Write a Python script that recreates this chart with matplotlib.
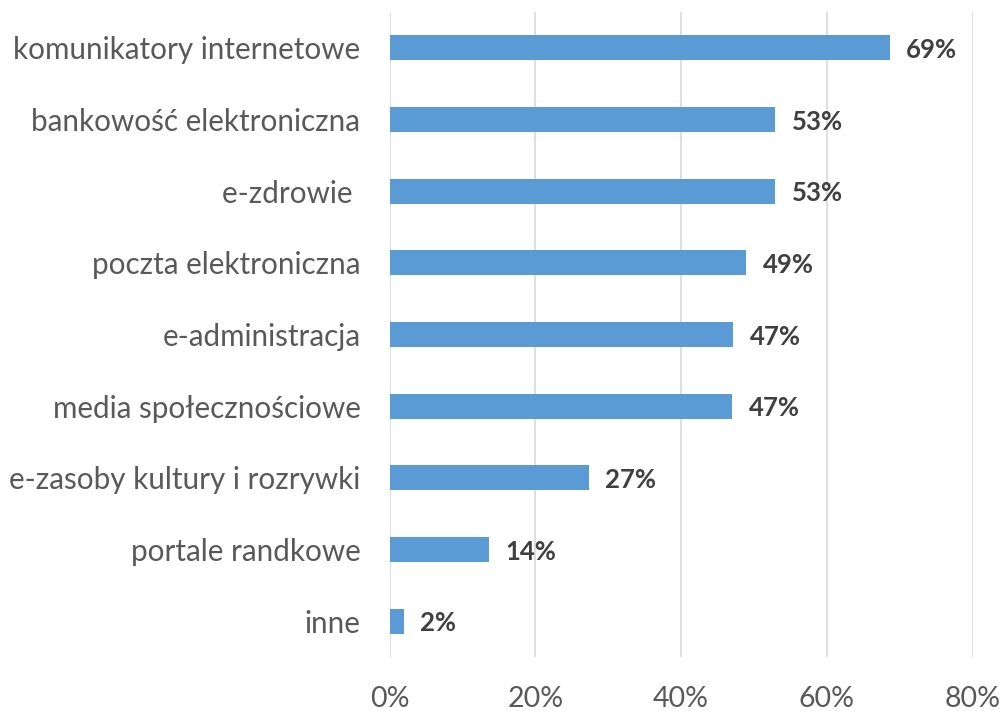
import matplotlib.pyplot as plt
from matplotlib.ticker import FuncFormatter

plt.rcParams['font.family'] = ['Lato', 'DejaVu Sans']

categories = ['komunikatory internetowe', 'bankowość elektroniczna', 'e-zdrowie ',
              'poczta elektroniczna', 'e-administracja', 'media społecznościowe',
              'e-zasoby kultury i rozrywki', 'portale randkowe', 'inne']
values = [68.6, 52.9, 52.9, 48.9, 47.1, 47.0, 27.3, 13.6, 1.9]
xticks = [0, 20, 40, 60, 80]

fig = plt.figure(figsize=(10.03, 7.11), dpi=100)
ax = fig.add_axes([0.3885, 0.0759, 0.5813, 0.9072])

pos = list(range(len(categories)))
ax.barh(pos, values, height=0.35, color='#5B9BD5', zorder=3)
ax.set_ylim(len(categories) - 0.5, -0.5)
ax.set_yticks(pos)
ax.set_yticklabels(categories, fontsize=21.3, color='#595959')

for p, v in zip(pos, values):
    ax.annotate(f'{v:.0f}%', (v, p), xytext=(12, -1.5), textcoords='offset points',
                va='center', ha='left', fontsize=18.5, fontweight='bold', color='#404040')

ax.set_xlim(0, 80)
ax.set_xticks(xticks)
ax.xaxis.set_major_formatter(FuncFormatter(lambda x, _: f'{x:.0f}%'))
ax.tick_params(axis='x', labelsize=20.5, labelcolor='#595959', length=0, pad=21)
ax.tick_params(axis='y', length=0, pad=21)
ax.grid(axis='x', color='#d9d9d9', linewidth=1.2, zorder=0)
for s in ax.spines.values():
    s.set_visible(False)

fig.savefig('out.png', dpi=100)
